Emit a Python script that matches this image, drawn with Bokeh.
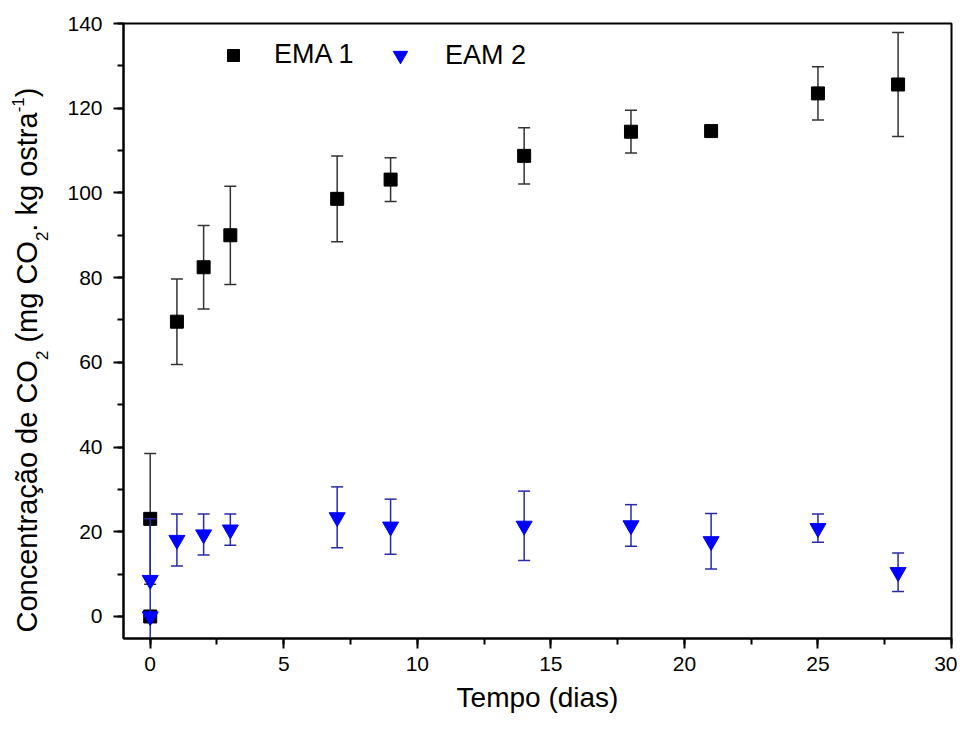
import math
from bokeh.plotting import figure
from bokeh.layouts import row
from bokeh.models import (ColumnDataSource, Whisker, TeeHead, Range1d, SingleIntervalTicker,
                          Legend, LegendItem, Label)
from bokeh.embed import file_html
from bokeh.resources import INLINE

# ---------------- data ----------------
days = [0, 0, 1, 2, 3, 7, 9, 14, 18, 21, 25, 28]
ema1 = [0, 23.05, 69.6, 82.45, 90.0, 98.6, 103.15, 108.75, 114.45, 114.6, 123.5, 125.6]
ema1_err = [0, 15.45, 10.1, 9.85, 11.6, 10.1, 5.15, 6.65, 5.05, 1.0, 6.3, 12.3]
eam2 = [0, 8.6, 18.05, 19.35, 20.5, 23.4, 21.2, 21.4, 21.5, 17.75, 20.85, 10.45]
eam2_err = [0, 14.5, 6.15, 4.85, 3.7, 7.2, 6.5, 8.2, 4.9, 6.55, 3.35, 4.55]

series_names = ["EMA 1", "EAM 2"]
x_label = "Tempo (dias)"
y_label_parts = [("Concentração de CO", "main"), ("2", "sub"), (" (mg CO", "main"),
                 ("2", "sub"), (". kg ostra", "main"), ("-1", "sup"), (")", "main")]

X0, X1 = -1, 30
Y0, Y1 = -5.2, 140

src1 = ColumnDataSource(dict(x=days, y=ema1,
                             lo=[v - e for v, e in zip(ema1, ema1_err)],
                             hi=[v + e for v, e in zip(ema1, ema1_err)]))
src2 = ColumnDataSource(dict(x=days, y=eam2,
                             lo=[v - e for v, e in zip(eam2, eam2_err)],
                             hi=[v + e for v, e in zip(eam2, eam2_err)]))

FONT = "Liberation Sans"
H = 721
LW = 62                       # width of the strip holding the y-axis title
W = 957 - LW
BL, BR, BT, BB = 123 - LW, 6, 23, 83
yrange = Range1d(Y0, Y1)

p = figure(width=W, height=H, output_backend="svg", toolbar_location=None,
           x_range=Range1d(X0, X1), y_range=yrange,
           min_border_left=BL, min_border_right=BR, min_border_top=BT, min_border_bottom=BB)
p.background_fill_color = "white"
p.border_fill_color = "white"
p.outline_line_color = "black"
p.outline_line_width = 2
p.xgrid.visible = False
p.ygrid.visible = False

p.xaxis.ticker = SingleIntervalTicker(interval=5, num_minor_ticks=2)
p.yaxis.ticker = SingleIntervalTicker(interval=20, num_minor_ticks=2)
for ax in (p.xaxis, p.yaxis):
    ax.axis_line_width = 2
    ax.axis_line_color = "black"
    ax.major_tick_line_width = 2
    ax.minor_tick_line_width = 2
    ax.major_tick_line_color = "black"
    ax.minor_tick_line_color = "black"
    ax.major_tick_in = 0
    ax.major_tick_out = 10
    ax.minor_tick_in = 0
    ax.minor_tick_out = 6
    ax.major_label_text_font = FONT
    ax.major_label_text_font_size = "21px"
    ax.major_label_text_color = "black"
p.yaxis.major_label_standoff = 11
p.xaxis.major_label_standoff = 8

p.xaxis.axis_label = x_label
p.xaxis.axis_label_text_font = FONT
p.xaxis.axis_label_text_font_size = "28px"
p.xaxis.axis_label_text_font_style = "normal"
p.xaxis.axis_label_text_color = "black"
p.xaxis.axis_label_standoff = 8

# error bars and markers (draw order: black bars, squares, blue bars, triangles)
w1 = Whisker(source=src1, base="x", lower="lo", upper="hi", dimension="height",
             line_color="#333333", line_width=1.5,
             lower_head=TeeHead(size=12, line_color="#333333", line_width=1.5),
             upper_head=TeeHead(size=12, line_color="#333333", line_width=1.5))
w1.level = "glyph"
p.renderers.append(w1)
r1 = p.scatter("x", "y", source=src1, marker="square", size=13,
               fill_color="black", line_color="black")
w2 = Whisker(source=src2, base="x", lower="lo", upper="hi", dimension="height",
             line_color="#2a2aa8", line_width=1.5,
             lower_head=TeeHead(size=12, line_color="#2a2aa8", line_width=1.5),
             upper_head=TeeHead(size=12, line_color="#2a2aa8", line_width=1.5))
w2.level = "glyph"
p.renderers.append(w2)
r2 = p.scatter("x", "y", source=src2, marker="inverted_triangle", size=16,
               fill_color="#0000ff", line_color="#0000ff")

# legends (two separate single-item legends)
leg1 = Legend(items=[LegendItem(label=series_names[0], renderers=[r1])],
              location=(95, 568), glyph_width=30, glyph_height=30, label_standoff=26)
leg2 = Legend(items=[LegendItem(label=series_names[1], renderers=[r2])],
              location=(259, 565), glyph_width=36, glyph_height=36, label_standoff=27)
for lg in (leg1, leg2):
    lg.padding = 0
    lg.margin = 0
    lg.border_line_alpha = 0
    lg.background_fill_alpha = 0
    lg.label_text_font = FONT
    lg.label_text_font_size = "27px"
    lg.label_text_color = "black"
    p.add_layout(lg, "center")

# ---- strip on the left carrying the rotated y-axis title with sub/superscripts ----
# (its frame is aligned with the main frame, so it shares the main y range)
t = figure(width=LW, height=H, output_backend="svg", toolbar_location=None,
           x_range=Range1d(0, LW), y_range=yrange,
           x_axis_type=None, y_axis_type=None,
           min_border_left=0, min_border_right=0, min_border_top=BT, min_border_bottom=BB)
t.outline_line_color = None
t.background_fill_color = "white"
t.border_fill_color = "white"

px_y = (H - BT - BB) / (Y1 - Y0)
ARIAL = {'C': 722, 'o': 556, 'n': 556, 'c': 500, 'e': 556, 't': 278, 'r': 333, 'a': 556,
         'ç': 500, 'ã': 556, ' ': 278, 'd': 556, 'O': 778, '(': 333, 'm': 833, 'g': 556,
         '.': 278, 'k': 500, 's': 500, ')': 333, '-': 333, '1': 556, '2': 556}
MAIN, SMALL = 29, 17
base_x = 26            # baseline position in the strip
offs = {"main": 0, "sub": 15, "sup": -9}
ypx = (H - BB) - 632.0     # start, px above the frame bottom
for txt, kind in y_label_parts:
    size = MAIN if kind == "main" else SMALL
    lead = len(txt) - len(txt.lstrip(" "))
    ypx += ARIAL[' '] * size / 1000.0 * lead      # leading blanks are collapsed in SVG
    body = txt.lstrip(" ")
    t.add_layout(Label(x=base_x + offs[kind], y=Y0 + ypx / px_y, x_units="data", y_units="data",
                       text=body, angle=math.pi / 2, text_align="left",
                       text_baseline="alphabetic", text_font=FONT,
                       text_font_size=f"{size}px", text_color="black"))
    ypx += sum(ARIAL[c] for c in body) * size / 1000.0

layout = row(t, p, spacing=0)
open("out.html", "w").write(file_html(layout, INLINE))
